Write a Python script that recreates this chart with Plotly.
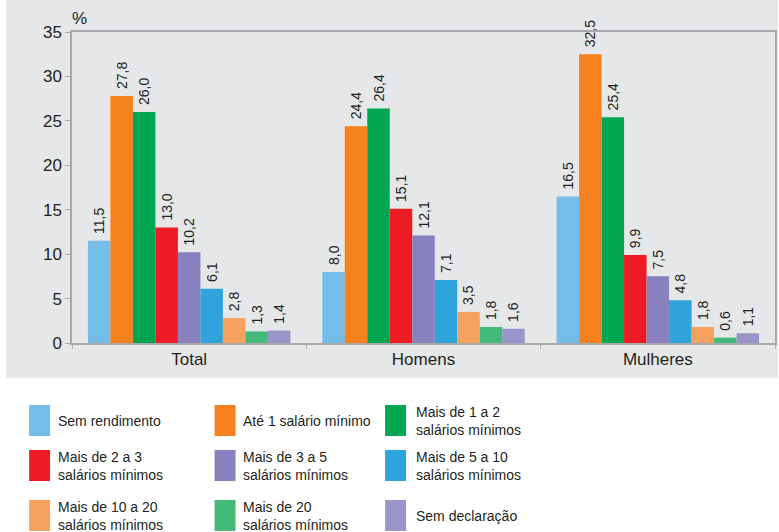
import plotly.graph_objects as go

categories = ["Total", "Homens", "Mulheres"]
series_names = [
    "Sem rendimento",
    "Até 1 salário mínimo",
    "Mais de 1 a 2<br>salários mínimos",
    "Mais de 2 a 3<br>salários mínimos",
    "Mais de 3 a 5<br>salários mínimos",
    "Mais de 5 a 10<br>salários mínimos",
    "Mais de 10 a 20<br>salários mínimos",
    "Mais de 20<br>salários mínimos",
    "Sem declaração",
]
series_colors = ["#74bde8", "#f5821f", "#00a651", "#ed1c24", "#8781bd",
                 "#2fa3dc", "#f7a15e", "#43b97a", "#9a95c9"]
# values per series: [Total, Homens, Mulheres]
sem_rendimento = [11.5, 8.0, 16.5]
ate_1 = [27.8, 24.4, 32.5]
de_1_a_2 = [26.0, 26.4, 25.4]
de_2_a_3 = [13.0, 15.1, 9.9]
de_3_a_5 = [10.2, 12.1, 7.5]
de_5_a_10 = [6.1, 7.1, 4.8]
de_10_a_20 = [2.8, 3.5, 1.8]
mais_20 = [1.3, 1.8, 0.6]
sem_declaracao = [1.4, 1.6, 1.1]
series_values = [sem_rendimento, ate_1, de_1_a_2, de_2_a_3, de_3_a_5,
                 de_5_a_10, de_10_a_20, mais_20, sem_declaracao]
y_ticks = [0, 5, 10, 15, 20, 25, 30, 35]

W, H = 779, 532
L, R, T, B = 72, 2, 32, 189
PW, PH = W - L - R, H - T - B

def px(x):
    return (x - L) / PW

def py(y):
    return (H - B - y) / PH

TEXT = "#231f20"
fig = go.Figure()
for name, vals, col in zip(series_names, series_values, series_colors):
    fig.add_trace(go.Bar(
        x=categories, y=vals, name=name.replace("<br>", " "),
        marker=dict(color=col, line=dict(width=0)),
        texttemplate="\u00a0%{y:.1f}", textposition="outside", textangle=-90,
        constraintext="none", cliponaxis=False,
        outsidetextfont=dict(size=14, color=TEXT, family="Liberation Sans, Arial, sans-serif"),
        showlegend=False, hoverinfo="skip",
    ))

shapes = [dict(type="rect", xref="paper", yref="paper", x0=px(6), x1=px(780),
               y0=py(378), y1=py(0), fillcolor="#e6e7e8", line=dict(width=0), layer="below")]
annotations = [dict(text="%", xref="paper", yref="paper", x=px(70), y=py(18), xanchor="left",
                    yanchor="middle", showarrow=False,
                    font=dict(size=17, color=TEXT, family="Liberation Sans, Arial, sans-serif"))]

sw_x = [29, 215, 386]
tx_x = [56, 241, 415]
row_c = [420.5, 465.5, 515.5]
for i, (name, col) in enumerate(zip(series_names, series_colors)):
    r, c = divmod(i, 3)
    shapes.append(dict(type="rect", xref="paper", yref="paper",
                       x0=px(sw_x[c]), x1=px(sw_x[c] + 21),
                       y0=py(row_c[r] + 15.5), y1=py(row_c[r] - 15.5),
                       fillcolor=col, line=dict(width=0)))
    annotations.append(dict(text=name, xref="paper", yref="paper", x=px(tx_x[c]), y=py(row_c[r]),
                            xanchor="left", yanchor="middle", align="left", showarrow=False,
                            font=dict(size=14, color=TEXT,
                                      family="Liberation Sans, Arial, sans-serif")))

axis_line = "#a7a9ac"
fig.update_layout(
    width=W, height=H, margin=dict(l=L, r=R, t=T, b=B),
    paper_bgcolor="white", plot_bgcolor="white",
    separators=",.",
    barmode="group", bargap=0.136, bargroupgap=0,
    font=dict(family="Liberation Sans, Arial, sans-serif", color=TEXT),
    shapes=shapes, annotations=annotations,
    xaxis=dict(showline=True, linecolor=axis_line, linewidth=1.5, mirror=True,
               ticks="outside", tickson="boundaries", ticklen=4, tickcolor=axis_line,
               tickfont=dict(size=17, color=TEXT), showgrid=False),
    yaxis=dict(range=[0, 35], tickvals=y_ticks, showline=True, linecolor=axis_line,
               linewidth=1.5, mirror=True, ticks="outside", ticklen=5, tickcolor=axis_line,
               tickfont=dict(size=17, color=TEXT), showgrid=False, zeroline=False),
)
fig.write_html("out.html", config={"displayModeBar": False},
               post_script="document.body.style.margin='0';document.body.style.padding='0';")
